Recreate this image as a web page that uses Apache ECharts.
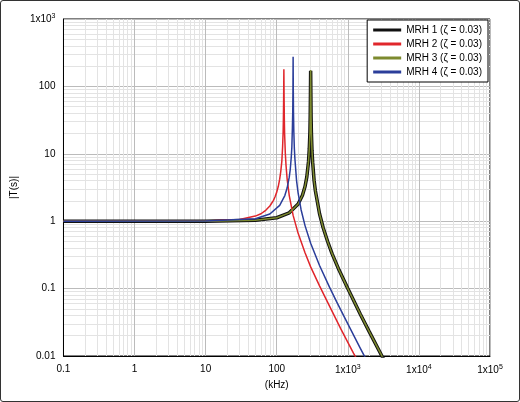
<!DOCTYPE html><html><head><meta charset="utf-8">
<script src="https://cdn.jsdelivr.net/npm/echarts@6/dist/echarts.min.js"></script>
<style>html,body{margin:0;padding:0;background:#fff}#c{width:518px;height:400px;border:1px solid #333;border-radius:3px}</style>
</head><body><div id="c"></div><script>
const mrh1 = [[0.1,1],[10,1.001],[50,1.03],[100,1.125],[150,1.33],[200,1.8],[230,2.43],[250,3.27],[265,4.55],[280,7.7],[287,11.8],[293,21],[296,38],[298,75],[300,170],[302,75],[304,37],[307,21],[313,11.3],[320,7.5],[335,4.05],[350,2.8],[400,1.29],[450,0.8],[520,0.5],[600,0.33],[750,0.19],[1000,0.1],[1500,0.0417],[2000,0.023],[3000,0.0101],[3200,0.0089]];
const mrh2 = [[0.1,1],[10,1.006],[30,1.06],[50,1.19],[60,1.29],[70,1.45],[80,1.68],[90,2.04],[95,2.32],[100,2.7],[105,3.27],[110,4.2],[114,5.5],[118,7.8],[121,12.8],[123,21],[124,32],[125,63],[126,180],[127,63],[128,31],[129,20],[132,10.3],[135,6.8],[140,4.25],[150,2.4],[170,1.22],[200,0.66],[250,0.34],[300,0.21],[400,0.11],[500,0.068],[800,0.025],[1200,0.011],[1300,0.0095]];
const mrh3 = [[0.1,1],[10,1.001],[50,1.03],[100,1.125],[150,1.33],[200,1.8],[230,2.43],[250,3.27],[265,4.55],[280,7.7],[287,11.8],[293,21],[296,38],[298,75],[300,175],[302,75],[304,37],[307,21],[313,11.3],[320,7.5],[335,4.05],[350,2.8],[400,1.29],[450,0.8],[520,0.5],[600,0.33],[750,0.19],[1000,0.1],[1500,0.0417],[2000,0.023],[3000,0.0101],[3200,0.0089]];
const mrh4 = [[0.1,1],[10,1.003],[50,1.09],[80,1.28],[110,1.72],[130,2.4],[140,3.1],[150,4.5],[155,5.9],[160,8.9],[163,12.3],[166,24],[168,43],[169,85],[170,275],[171,85],[172,42],[174,21],[177,11.9],[180,8.5],[190,4.0],[200,2.6],[220,1.48],[250,0.86],[300,0.47],[400,0.22],[550,0.106],[700,0.063],[1000,0.03],[1500,0.013],[1800,0.009]];
const names = ['MRH 1 (ζ = 0.03)','MRH 2 (ζ = 0.03)','MRH 3 (ζ = 0.03)','MRH 4 (ζ = 0.03)'];
const fmt = v => { if (v >= 1000) { return '1x10{s|' + Math.round(Math.log10(v)) + '}'; } return String(+v.toPrecision(3)); };
const rich = {s:{fontSize:7,verticalAlign:'top',padding:[0,0,6,0],color:'#000'}};
const ax = {type:'log',logBase:10,
  axisLine:{lineStyle:{color:'#000'}},axisTick:{show:false},
  axisLabel:{color:'#000',fontSize:10,fontFamily:'Liberation Sans',formatter:fmt,rich:rich},
  splitLine:{show:true,lineStyle:{color:'#bbb',width:1}},
  minorTick:{show:false,splitNumber:9},minorSplitLine:{show:true,lineStyle:{color:'#e3e3e3'}},
  nameTextStyle:{color:'#000',fontSize:10,fontFamily:'Liberation Sans'}};
const chart = echarts.init(document.getElementById('c'));
chart.setOption({animation:false,
 grid:{left:57,right:29,top:18,bottom:45,show:true,borderColor:'#000'},
 xAxis:Object.assign({},ax,{min:0.1,max:100000,name:'(kHz)',nameLocation:'middle',nameGap:22}),
 yAxis:Object.assign({},ax,{min:0.01,max:1000,name:'|T(s)|',nameLocation:'middle',nameGap:32}),
 legend:{orient:'vertical',right:31,top:19,backgroundColor:'#fff',borderColor:'#000',borderWidth:1,borderRadius:0,
   itemWidth:28,itemHeight:3,itemGap:4,padding:[5,6,5,6],textStyle:{fontSize:10,fontFamily:'Liberation Sans',color:'#000'},
   data:names.map(n=>({name:n,icon:'rect'}))},
 series:[
  {name:names[0],type:'line',data:mrh1,showSymbol:false,lineStyle:{color:'#111',width:3.5},itemStyle:{color:'#111'}},
  {name:names[1],type:'line',data:mrh2,showSymbol:false,lineStyle:{color:'#e0262b',width:1.5},itemStyle:{color:'#e0262b'}},
  {name:names[2],type:'line',data:mrh3,showSymbol:false,lineStyle:{color:'#7d8a2e',width:1.5},itemStyle:{color:'#7d8a2e'}},
  {name:names[3],type:'line',data:mrh4,showSymbol:false,lineStyle:{color:'#2b3e9a',width:1.5},itemStyle:{color:'#2b3e9a'}}
 ]});
</script></body></html>
